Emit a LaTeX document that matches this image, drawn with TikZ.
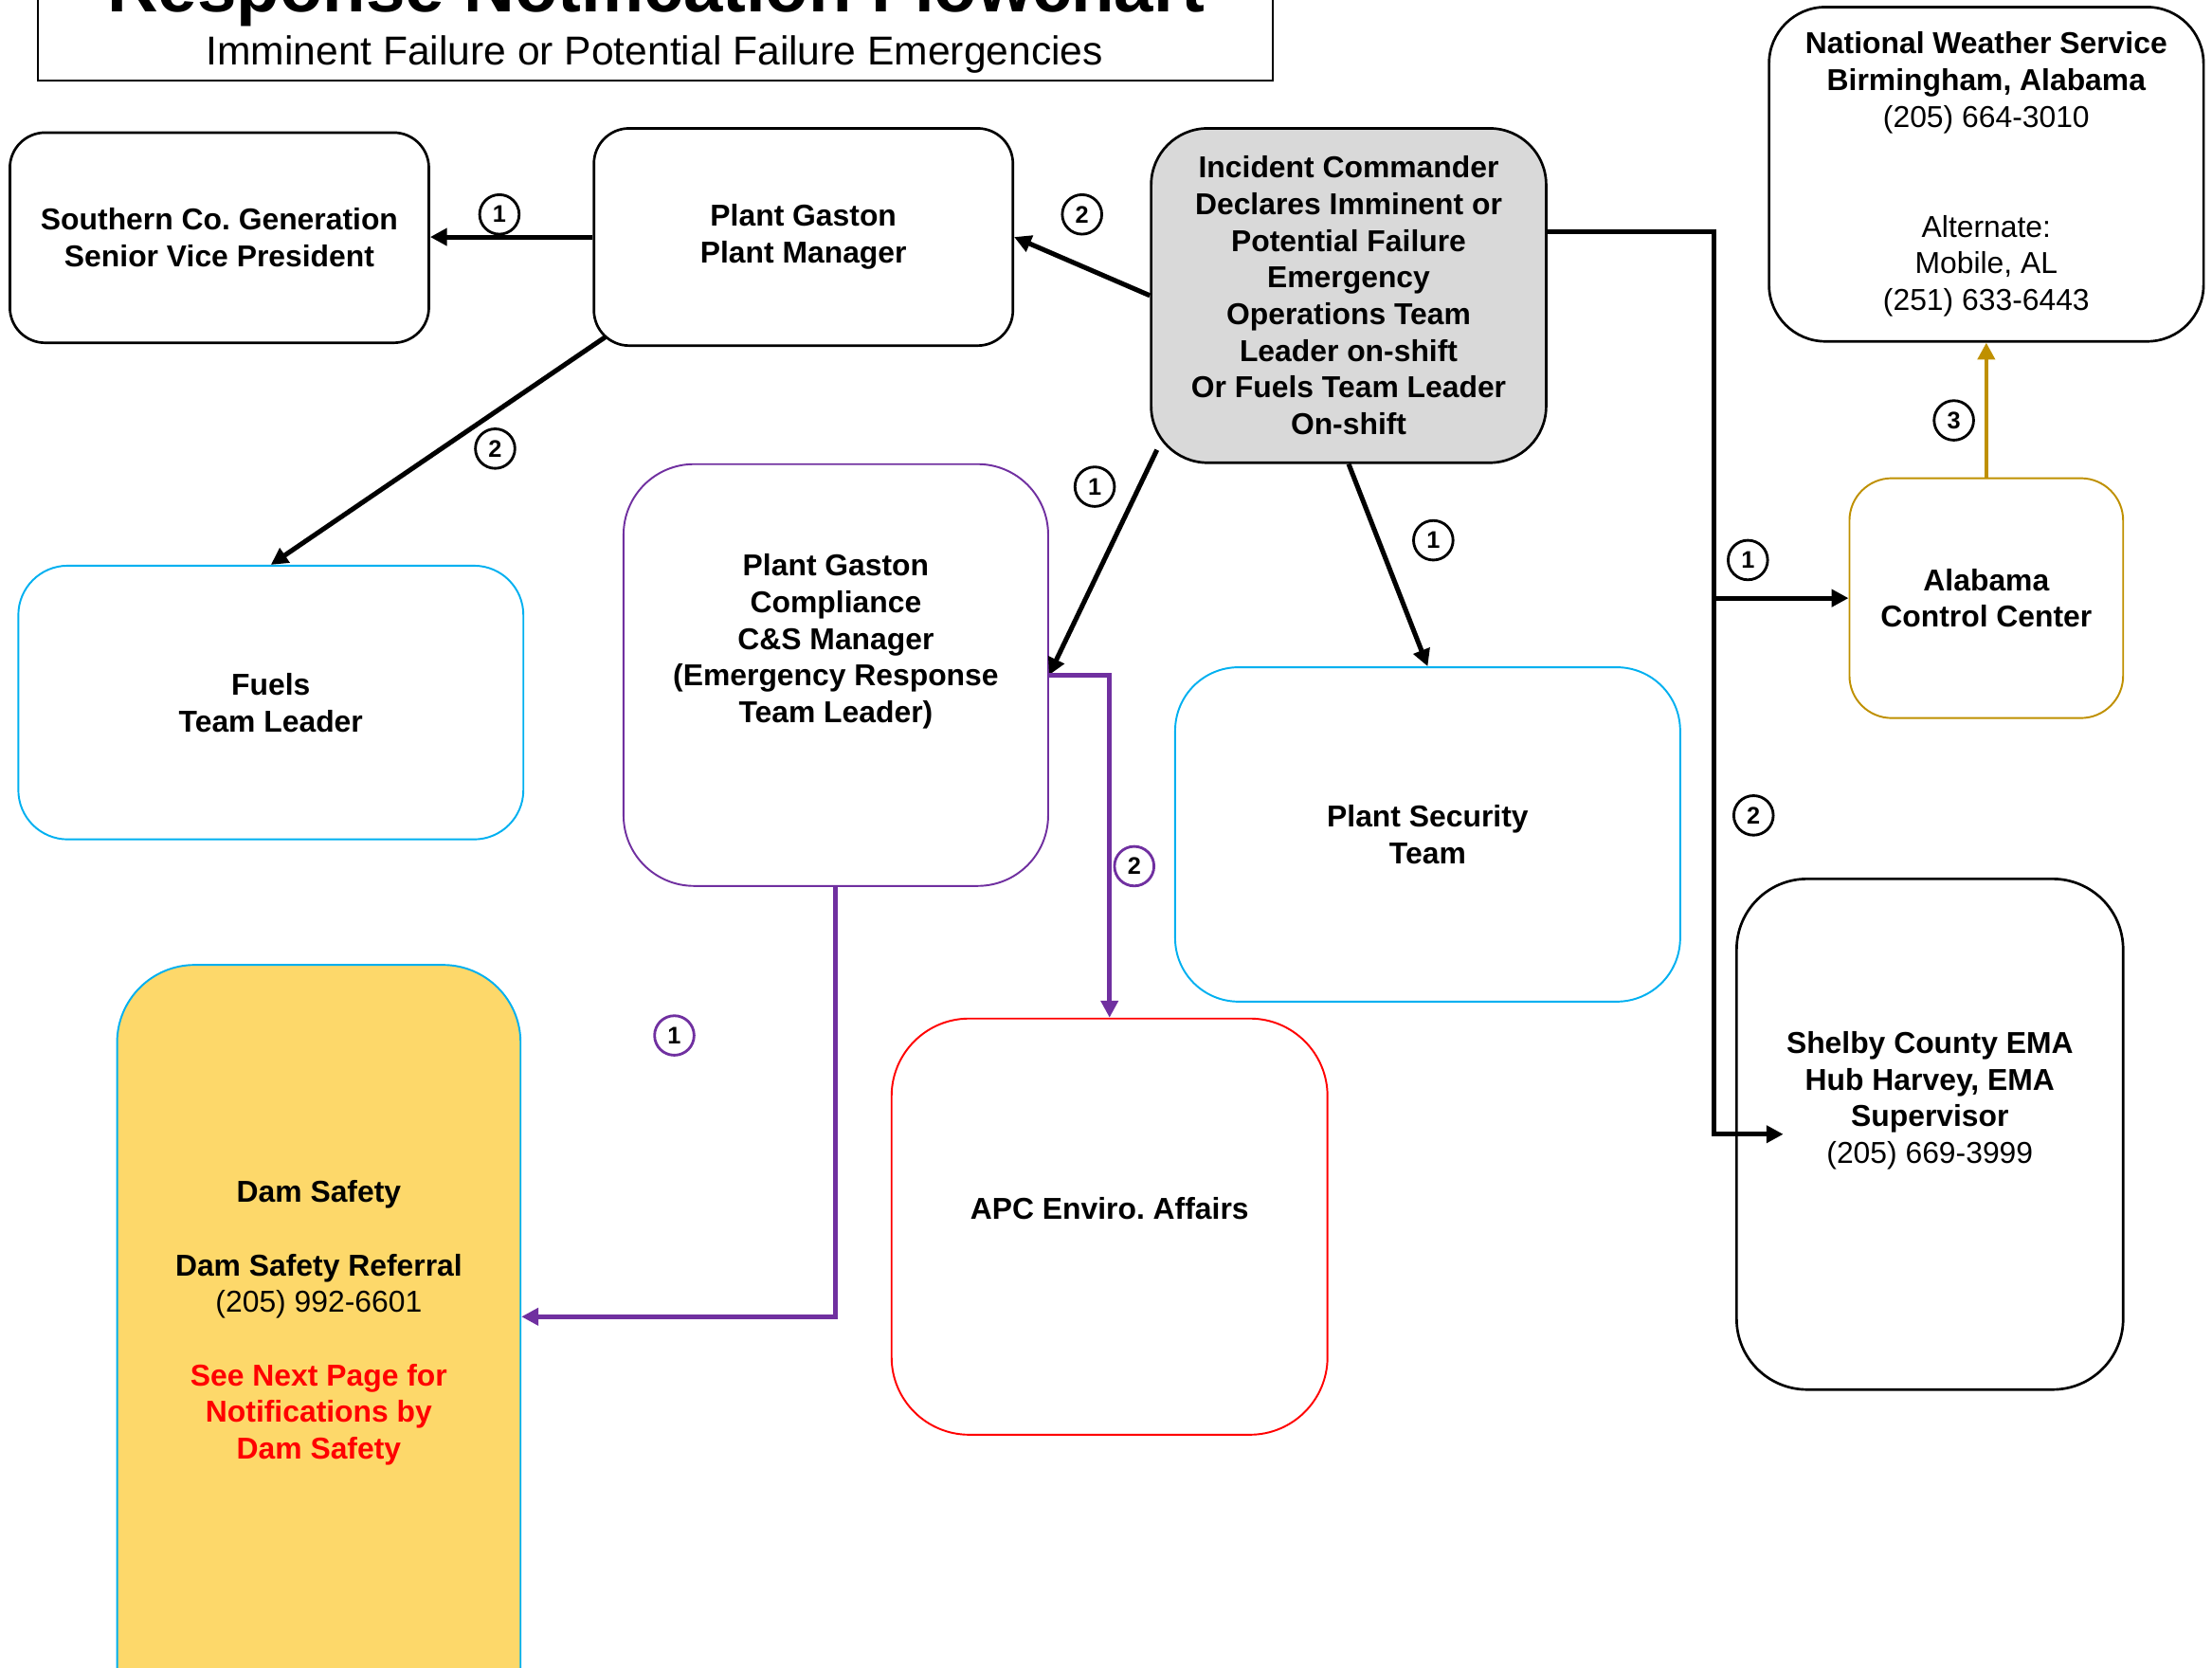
\documentclass[tikz,border=0pt]{standalone}
\usepackage{fontspec}
\setmainfont{Liberation Sans}
\usetikzlibrary{arrows.meta,calc}
\definecolor{icgray}{HTML}{D9D9D9}
\definecolor{goldc}{HTML}{BF9000}
\definecolor{cyanc}{HTML}{00B0F0}
\definecolor{purp}{HTML}{7030A0}
\definecolor{damy}{HTML}{FDD86A}
\newcommand{\boxfont}{\fontsize{21.4}{26}\selectfont\bfseries\frenchspacing}
\newcommand{\numfont}{\fontsize{17}{17}\selectfont\bfseries}
\newcommand{\rg}{\mdseries}
\newcommand{\rd}{\color{red}}
\begin{document}
\begin{tikzpicture}[x=1pt,y=-1pt,
  nbox/.style={draw=black, line width=1.8pt, inner sep=0pt, align=center, font=\boxfont},
  cbox/.style={line width=1.3pt, inner sep=0pt, align=center, font=\boxfont},
  num/.style={circle, draw=black, line width=1.9pt, minimum size=28pt, inner sep=0pt, font=\numfont},
  conn/.style={line width=3.4pt, -{Triangle[length=12pt,width=12pt]}},
  pconn/.style={purp, line width=3.4pt, -{Triangle[length=12pt,width=12pt]}}]
\useasboundingbox (0,0) rectangle (1568,1182);
\clip (0,0) rectangle (1568,1182);

% title
\node[draw=black, line width=1.4pt, minimum width=875pt, minimum height=100pt, anchor=south, inner sep=0pt] (titlebox) at (464.5,58) {};
\node[anchor=base, font=\fontsize{50}{50}\selectfont\bfseries, inner sep=0pt] (title) at (465,8.5) {Response Notification Flowchart};
\node[anchor=base, font=\fontsize{28.6}{30}\selectfont, inner sep=0pt] (subtitle) at (464,46) {Imminent Failure or Potential Failure Emergencies};

% boxes
\node[nbox, rounded corners=25pt, minimum width=297pt, minimum height=149pt] (svp) at (155.5,168.5)
  {Southern Co.\ Generation\\Senior Vice President};
\node[nbox, rounded corners=25pt, minimum width=297pt, minimum height=154pt] (pm) at (569.5,168)
  {Plant Gaston\\Plant Manager};
\node[nbox, fill=icgray, rounded corners=40pt, minimum width=280pt, minimum height=237pt] (ic) at (956,209.5)
  {Incident Commander\\Declares Imminent or\\Potential Failure\\Emergency\\Operations Team\\Leader on-shift\\Or Fuels Team Leader\\On-shift};
\node[nbox, rounded corners=40pt, minimum width=308pt, minimum height=237pt] (nws) at (1408,123.5)
  {National Weather Service\\Birmingham, Alabama\\\rg (205) 664-3010\\\mbox{}\\\mbox{}\\\rg Alternate:\\\rg Mobile, AL\\\rg (251) 633-6443};
\node[cbox, draw=goldc, rounded corners=30pt, minimum width=194pt, minimum height=170pt] (acc) at (1408,424)
  {Alabama\\Control Center};
\node[cbox, draw=cyanc, rounded corners=35pt, minimum width=358pt, minimum height=194pt] (fuels) at (192,498)
  {Fuels\\Team Leader};
\node[cbox, draw=purp, rounded corners=50pt, minimum width=301pt, minimum height=299pt] (comp) at (592.5,478.5)
  {Plant Gaston\\Compliance\\C\&S Manager\\(Emergency Response\\Team Leader)\\\mbox{}\\\mbox{}};
\node[cbox, draw=cyanc, rounded corners=45pt, minimum width=358pt, minimum height=237pt] (sec) at (1012,591.5)
  {Plant Security\\Team};
\node[cbox, draw=red, rounded corners=55pt, minimum width=309pt, minimum height=295pt] (apc) at (786.5,869.5)
  {APC Enviro.\ Affairs\\\mbox{}};
\node[nbox, rounded corners=50pt, minimum width=274pt, minimum height=362pt] (shelby) at (1368,804)
  {Shelby County EMA\\Hub Harvey, EMA\\Supervisor\\\rg (205) 669-3999\\\mbox{}\\\mbox{}};
\node[cbox, draw=cyanc, fill=damy, rounded corners=55pt, minimum width=286pt, minimum height=581pt] (dam) at (226,974.5)
  {Dam Safety\\\mbox{}\\Dam Safety Referral\\\rg (205) 992-6601\\\mbox{}\\\rd See Next Page for\\\rd Notifications by\\\rd Dam Safety\\\mbox{}\\\mbox{}\\\mbox{}};

% connectors
\draw[conn] (pm.west) -- (pm.west -| svp.east);
\draw[conn] (ic.west) -- (pm.east);
\draw[conn] ($(pm.south west)+(9,-7)$) -- (fuels.north);
\draw[conn] ($(ic.south west)+(5,-10)$) -- (comp.east);
\draw[conn] (ic.south) -- (sec.north);
\coordinate (bus) at ($(ic.north east)+(118,74)$);
\coordinate (shin) at ($(shelby.west)+(34,0)$);
\draw[conn] ($(ic.north east)+(0,74)$) -- (bus) |- (shin);
\draw[conn] (acc.west -| bus) -- (acc.west);
\draw[goldc, line width=3.1pt, -{Triangle[length=12pt,width=12pt]}] (acc.north) -- (nws.south);
\draw[pconn] (comp.east) -| (apc.north);
\coordinate (damin) at ($(dam.north east)+(0,250)$);
\draw[pconn] (comp.south) |- (damin);

% step numbers
\node[num] (n1) at (354,152) {1};
\node[num] (n2) at (767,152) {2};
\node[num] (n3) at (351,318) {2};
\node[num] (n4) at (776,345) {1};
\node[num] (n5) at (1016,383) {1};
\node[num] (n6) at (1239,397) {1};
\node[num] (n7) at (1243,578) {2};
\node[num] (n8) at (1385,298) {3};
\node[num, draw=purp] (n9) at (804,614) {2};
\node[num, draw=purp] (n10) at (478,734) {1};
\end{tikzpicture}
\end{document}
